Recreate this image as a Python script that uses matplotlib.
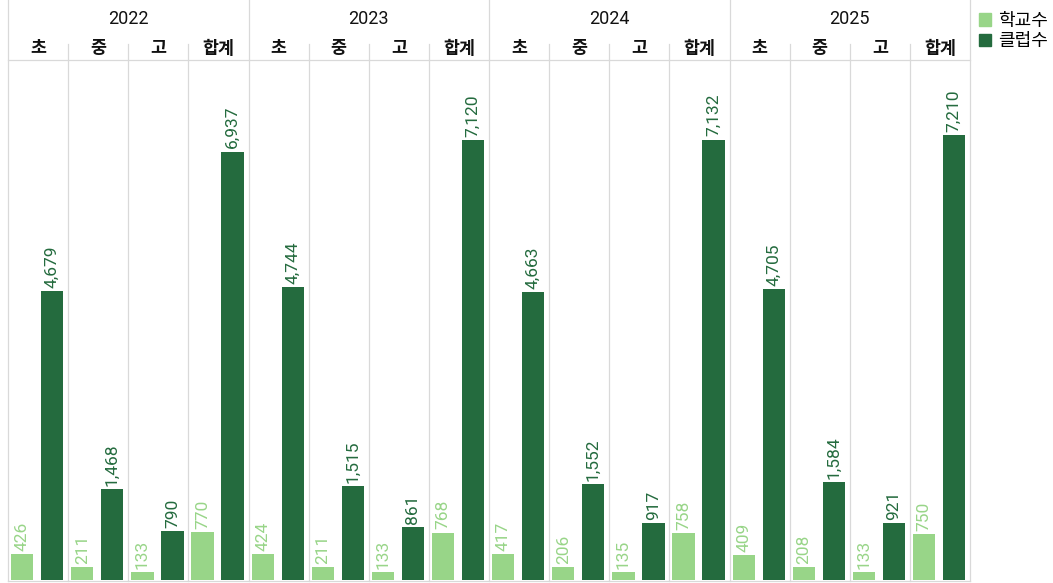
import numpy as np
import matplotlib.pyplot as plt
from matplotlib.patches import Patch

plt.rcParams['font.family'] = ['Roboto', 'Noto Sans CJK KR', 'DejaVu Sans']

years = ['2022', '2023', '2024', '2025']
levels = ['초', '중', '고', '합계']
schools = [426, 211, 133, 770,
           424, 211, 133, 768,
           417, 206, 135, 758,
           409, 208, 133, 750]
clubs = [4679, 1468, 790, 6937,
         4744, 1515, 861, 7120,
         4663, 1552, 917, 7132,
         4705, 1584, 921, 7210]

LIGHT = '#98d588'
DARK = '#246b3e'
GRID = '#d9d9d9'

W, H = 1053, 583
fig = plt.figure(figsize=(W / 100, H / 100), dpi=100)
x0, x1, y0, y1 = 8, 970, 580, 60
ax = fig.add_axes([x0 / W, 1 - y0 / H, (x1 - x0) / W, (y0 - y1) / H])

n = len(schools)
pos = np.arange(n)
ax.bar(pos + 0.235, schools, width=0.37, color=LIGHT)
ax.bar(pos + 0.735, clubs, width=0.37, color=DARK)

for i in range(n):
    ax.text(i + 0.235, schools[i] + 50, f'{schools[i]:,}', rotation=90,
            ha='center', va='bottom', color=LIGHT, fontsize=12.5)
    ax.text(i + 0.735, clubs[i] + 50, f'{clubs[i]:,}', rotation=90,
            ha='center', va='bottom', color=DARK, fontsize=12.5)

ax.set_xlim(0, n)
ax.set_ylim(0, 8420)
ax.set_xticks([])
ax.set_yticks([])
for s in ax.spines.values():
    s.set_visible(False)

# panel separators
for i in range(n + 1):
    top = 0 if i % 4 == 0 else 44
    xf = (x0 + (x1 - x0) * i / n) / W
    fig.add_artist(plt.Line2D([xf, xf], [1 - 581 / H, 1 - top / H],
                              color=GRID, lw=0.9))
fig.add_artist(plt.Line2D([x0 / W, x1 / W], [1 - y1 / H] * 2, color=GRID, lw=0.9))
fig.add_artist(plt.Line2D([x0 / W, x1 / W], [1 - 580.5 / H] * 2, color=GRID, lw=0.9))

# headers
for j, y in enumerate(years):
    xc = (x0 + (x1 - x0) * (4 * j + 2) / n) / W
    fig.text(xc, 1 - 19 / H, y, ha='center', va='center', fontsize=13,
             color='#111111')
for i in range(n):
    xc = (x0 + (x1 - x0) * (i + 0.5) / n) / W
    fig.text(xc, 1 - 48 / H, levels[i % 4], ha='center', va='center',
             fontsize=12.5, fontweight='bold', color='#111111')

handles = [Patch(color=LIGHT, label='학교수'), Patch(color=DARK, label='클럽수')]
fig.legend(handles=handles, loc='upper left', bbox_to_anchor=(975 / W, 1 - 8 / H),
           frameon=False, fontsize=13, handlelength=0.7, handleheight=0.7,
           handletextpad=0.4, labelspacing=0.15, borderaxespad=0, borderpad=0.2)

fig.savefig('out.png', dpi=100)
